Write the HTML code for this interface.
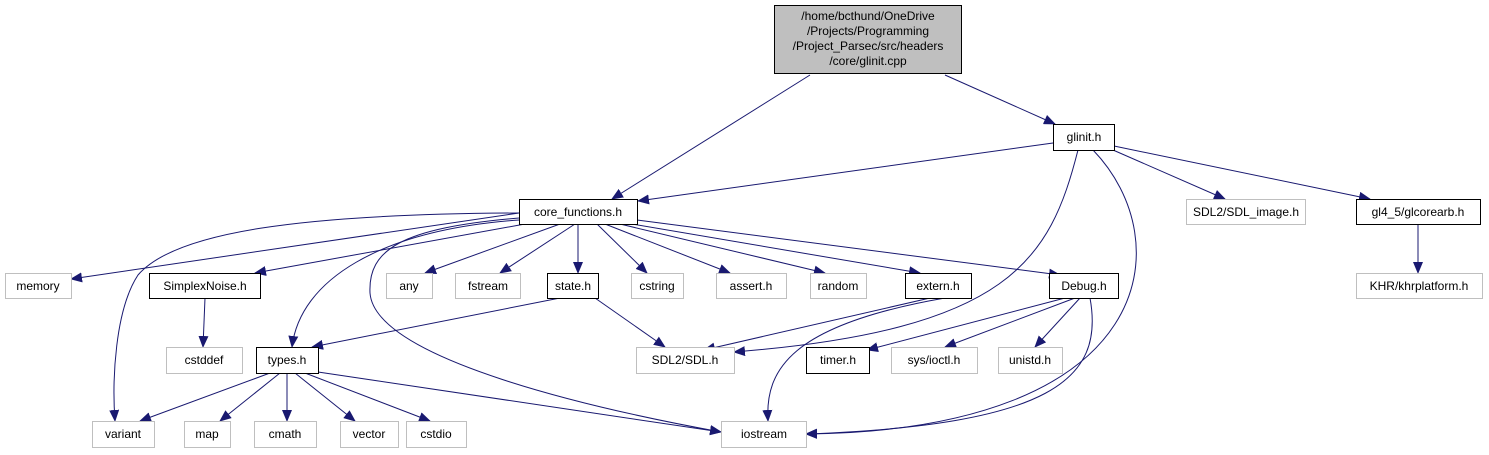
<!DOCTYPE html><html><head><style>body{margin:0;background:#fff}svg{display:block}text{font-family:"Liberation Sans",Arial,sans-serif;font-size:12px;text-anchor:middle;fill:#000}</style></head><body>
<svg width="1489" height="455" viewBox="0 0 1489 455" xmlns="http://www.w3.org/2000/svg">
<defs><marker id="a" markerWidth="12" markerHeight="10" refX="11" refY="5" orient="auto" markerUnits="userSpaceOnUse"><polygon points="0,0 12,5 0,10" fill="#191970"/></marker></defs>
<g fill="none" stroke="#191970" stroke-width="1" marker-end="url(#a)">
<path d="M810,75 L612,199"/>
<path d="M945,75 L1055,124"/>
<path d="M1053,143 L638,201"/>
<path d="M1113,150 L1225,199"/>
<path d="M1114,146 L1370,199"/>
<path d="M1078,150 C1050,260 1010,330 734,352"/>
<path d="M1093,150 C1180,240 1160,430 806,434"/>
<path d="M1418,224 L1418,273"/>
<path d="M519,213 L71,279"/>
<path d="M519,213 C300,214 175,232 138,275 C115,310 112,380 115,421"/>
<path d="M525,224 L255,273"/>
<path d="M519,220 C380,230 300,280 292,347"/>
<path d="M519,218 C400,228 368,250 370,293 C375,360 600,410 721,432"/>
<path d="M560,224 L425,273"/>
<path d="M575,224 L500,273"/>
<path d="M578,224 L578,273"/>
<path d="M597,224 L647,273"/>
<path d="M605,224 L730,273"/>
<path d="M620,224 L825,273"/>
<path d="M632,224 L920,273"/>
<path d="M637,220 L1060,275"/>
<path d="M205,298 L203,347"/>
<path d="M560,298 L312,347"/>
<path d="M595,298 L665,347"/>
<path d="M930,298 L704,350"/>
<path d="M945,298 C790,325 765,370 768,421"/>
<path d="M1065,298 L867,350"/>
<path d="M1075,298 L945,347"/>
<path d="M1080,298 L1035,347"/>
<path d="M1090,298 C1105,380 1050,425 806,434"/>
<path d="M270,373 L140,421"/>
<path d="M280,373 L220,421"/>
<path d="M287,373 L287,421"/>
<path d="M295,373 L355,421"/>
<path d="M305,373 L430,421"/>
<path d="M318,372 L721,432"/>
</g>
<g stroke-width="1">
<rect x="774.5" y="5.5" width="187" height="68" fill="#bfbfbf" stroke="#000"/>
<g fill="#fff" stroke="#000">
<rect x="1053.5" y="124.5" width="61" height="26"/>
<rect x="519.5" y="199.5" width="118" height="25"/>
<rect x="1356.5" y="199.5" width="124" height="25"/>
<rect x="149.5" y="273.5" width="111" height="25"/>
<rect x="547.5" y="273.5" width="51" height="25"/>
<rect x="905.5" y="273.5" width="66" height="25"/>
<rect x="1049.5" y="273.5" width="69" height="25"/>
<rect x="256.5" y="347.5" width="62" height="26"/>
<rect x="806.5" y="347.5" width="63" height="26"/>
</g>
<g fill="#fff" stroke="#bfbfbf">
<rect x="1186.5" y="199.5" width="119" height="25"/>
<rect x="1356.5" y="273.5" width="126" height="25"/>
<rect x="5.5" y="273.5" width="66" height="25"/>
<rect x="386.5" y="273.5" width="46" height="25"/>
<rect x="455.5" y="273.5" width="65" height="25"/>
<rect x="631.5" y="273.5" width="52" height="25"/>
<rect x="716.5" y="273.5" width="70" height="25"/>
<rect x="810.5" y="273.5" width="56" height="25"/>
<rect x="166.5" y="347.5" width="76" height="26"/>
<rect x="636.5" y="347.5" width="98" height="26"/>
<rect x="891.5" y="347.5" width="86" height="26"/>
<rect x="998.5" y="347.5" width="64" height="26"/>
<rect x="92.5" y="421.5" width="62" height="26"/>
<rect x="184.5" y="421.5" width="46" height="26"/>
<rect x="254.5" y="421.5" width="62" height="26"/>
<rect x="340.5" y="421.5" width="58" height="26"/>
<rect x="406.5" y="421.5" width="60" height="26"/>
<rect x="721.5" y="421.5" width="85" height="26"/>
</g></g>
<text x="868" y="20">/home/bcthund/OneDrive</text>
<text x="868" y="35">/Projects/Programming</text>
<text x="868" y="50">/Project_Parsec/src/headers</text>
<text x="868" y="65">/core/glinit.cpp</text>
<text x="1084" y="141">glinit.h</text>
<text x="578" y="216">core_functions.h</text>
<text x="1246" y="216">SDL2/SDL_image.h</text>
<text x="1418" y="216">gl4_5/glcorearb.h</text>
<text x="1419" y="290">KHR/khrplatform.h</text>
<text x="38" y="290">memory</text>
<text x="205" y="290">SimplexNoise.h</text>
<text x="409" y="290">any</text>
<text x="488" y="290">fstream</text>
<text x="573" y="290">state.h</text>
<text x="657" y="290">cstring</text>
<text x="751" y="290">assert.h</text>
<text x="838" y="290">random</text>
<text x="938" y="290">extern.h</text>
<text x="1084" y="290">Debug.h</text>
<text x="204" y="364">cstddef</text>
<text x="287" y="364">types.h</text>
<text x="685" y="364">SDL2/SDL.h</text>
<text x="838" y="364">timer.h</text>
<text x="934" y="364">sys/ioctl.h</text>
<text x="1030" y="364">unistd.h</text>
<text x="123" y="438">variant</text>
<text x="207" y="438">map</text>
<text x="285" y="438">cmath</text>
<text x="369" y="438">vector</text>
<text x="436" y="438">cstdio</text>
<text x="764" y="438">iostream</text>
</svg></body></html>
